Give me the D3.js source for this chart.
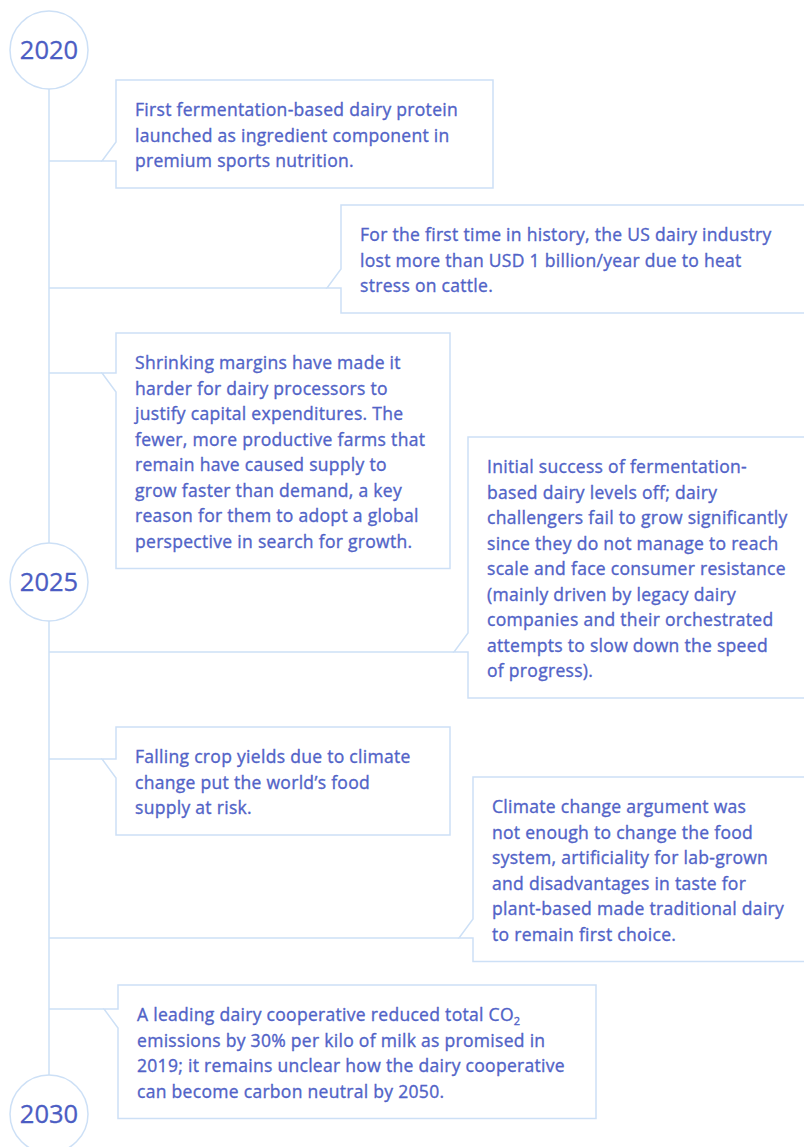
<!DOCTYPE html>
<html>
<head>
<meta charset="utf-8">
<script src="https://cdn.jsdelivr.net/npm/d3@7"></script>
<style>
  body { margin: 0; background: #fff; }
  svg { display: block; }
  .ev { font-family: "Open Sans", sans-serif; font-size: 17.5px; font-weight: 500; letter-spacing: 0.3px; fill: #5163c7; stroke: #5163c7; stroke-width: 0.35px; }
  .yr { font-family: "Open Sans", sans-serif; font-size: 25.5px; font-weight: 500; fill: #4b5dc3; stroke: #4b5dc3; stroke-width: 0.3px; }
</style>
</head>
<body>
<svg id="chart"></svg>
<script>
// milestones on the timeline
var years = [2020, 2025, 2030];

// events: when they sit on the timeline (fractional year)
var eventTimes = [2021.04, 2022.24, 2023.04, 2025.66, 2026.66, 2028.35, 2029.01];

// event text, one entry per line as set in the picture
var eventLines = [
  ["First fermentation-based dairy protein",
   "launched as ingredient component in",
   "premium sports nutrition."],
  ["For the first time in history, the US dairy industry",
   "lost more than USD 1 billion/year due to heat",
   "stress on cattle."],
  ["Shrinking margins have made it",
   "harder for dairy processors to",
   "justify capital expenditures. The",
   "fewer, more productive farms that",
   "remain have caused supply to",
   "grow faster than demand, a key",
   "reason for them to adopt a global",
   "perspective in search for growth."],
  ["Initial success of fermentation-",
   "based dairy levels off; dairy",
   "challengers fail to grow significantly",
   "since they do not manage to reach",
   "scale and face consumer resistance",
   "(mainly driven by legacy dairy",
   "companies and their orchestrated",
   "attempts to slow down the speed",
   "of progress)."],
  ["Falling crop yields due to climate",
   "change put the world\u2019s food",
   "supply at risk."],
  ["Climate change argument was",
   "not enough to change the food",
   "system, artificiality for lab-grown",
   "and disadvantages in taste for",
   "plant-based made traditional dairy",
   "to remain first choice."],
  ["A leading dairy cooperative reduced total CO\u2082",
   "emissions by 30% per kilo of milk as promised in",
   "2019; it remains unclear how the dairy cooperative",
   "can become carbon neutral by 2050."]
];

var W = 804, H = 1147;
var lineX = 49, r = 39;
var stroke = "#cde0f6";
var lineH = 25.5;

// box layout: left edge, width, top, tail above/below the connector
var layout = [
  {x: 116, w: 377, top: 80,  up: true},
  {x: 341, w: 480, top: 205, up: true},
  {x: 116, w: 334, top: 333, up: false},
  {x: 468, w: 360, top: 437, up: true},
  {x: 116, w: 334, top: 727, up: false},
  {x: 473, w: 360, top: 777, up: true},
  {x: 118, w: 478, top: 985, up: false}
];

var svg = d3.select("#chart").attr("width", W).attr("height", H);

var y = d3.scaleLinear().domain([2020, 2030]).range([50, 1114]);

// vertical timeline between the year circles
for (var i = 0; i < years.length - 1; i++) {
  svg.append("line")
    .attr("x1", lineX).attr("x2", lineX)
    .attr("y1", y(years[i]) + r).attr("y2", y(years[i + 1]) - r)
    .attr("stroke", stroke).attr("stroke-width", 1.5);
}

// year circles
var yr = svg.selectAll(".year").data(years).enter().append("g")
  .attr("class", "year")
  .attr("transform", function(d) { return "translate(" + lineX + "," + y(d) + ")"; });
yr.append("circle").attr("r", r)
  .attr("fill", "#fff").attr("stroke", stroke).attr("stroke-width", 1.5);
yr.append("text").attr("class", "yr")
  .attr("text-anchor", "middle").attr("dy", "0.36em")
  .text(function(d) { return d; });

// event boxes with speech-bubble tail
eventTimes.forEach(function(t, i) {
  var L = layout[i];
  var cy = Math.round(y(t));
  var n = eventLines[i].length;
  var h = 31.5 + lineH * n;
  var x0 = L.x, x1 = L.x + L.w, y0 = L.top, y1 = L.top + h;
  var tw = 14, th = 19;
  var p = d3.path();
  // connector from the timeline
  svg.append("line")
    .attr("x1", lineX).attr("x2", x0 - tw)
    .attr("y1", cy).attr("y2", cy)
    .attr("stroke", stroke).attr("stroke-width", 1.5);
  p.moveTo(x0, y0);
  p.lineTo(x1, y0);
  p.lineTo(x1, y1);
  p.lineTo(x0, y1);
  if (L.up) {
    p.lineTo(x0, cy);
    p.lineTo(x0 - tw, cy);
    p.lineTo(x0, cy - th);
  } else {
    p.lineTo(x0, cy + th);
    p.lineTo(x0 - tw, cy);
    p.lineTo(x0, cy);
  }
  p.closePath();
  svg.append("path").attr("d", p.toString())
    .attr("fill", "#fff").attr("stroke", stroke).attr("stroke-width", 1.5)
    .attr("stroke-linejoin", "miter");

  var txt = svg.append("text").attr("class", "ev");
  eventLines[i].forEach(function(s, k) {
    var ty = y0 + 30 + k * lineH + 6;
    if (s.indexOf("\u2082") >= 0) {
      txt.append("tspan").attr("x", x0 + 19).attr("y", ty).text(s.replace("\u2082", ""));
      txt.append("tspan").attr("dy", 4).attr("font-size", 11).text("2");
    } else {
      txt.append("tspan").attr("x", x0 + 19).attr("y", ty).text(s);
    }
  });
});
</script>
</body>
</html>
